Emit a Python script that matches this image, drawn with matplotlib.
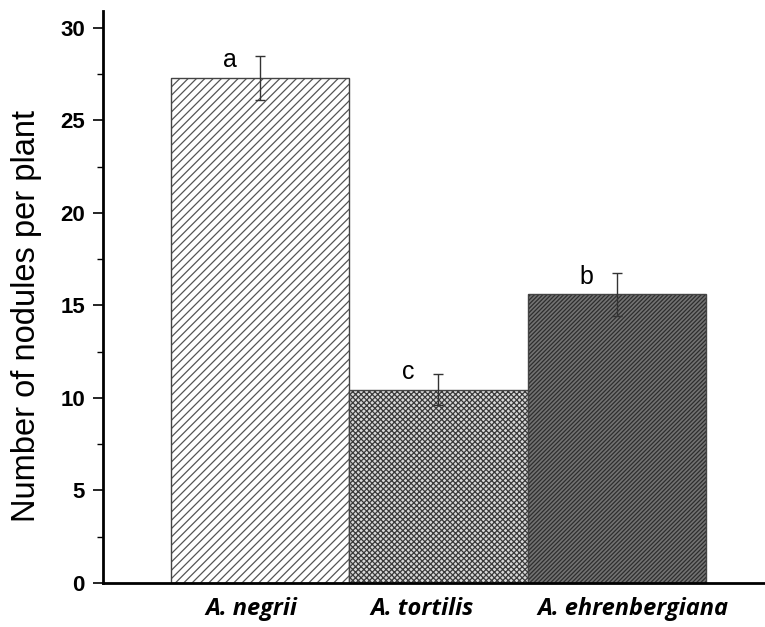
import numpy as np
import matplotlib.pyplot as plt
import matplotlib.transforms as mtransforms

species = ['A. negrii', 'A. tortilis', 'A. ehrenbergiana']
nodules = [27.3, 10.45, 15.6]
errors = [1.2, 0.85, 1.15]
letters = ['a', 'c', 'b']

plt.rcParams['hatch.linewidth'] = 0.9

fig = plt.figure(figsize=(7.65, 6.27), dpi=100)
ax = fig.add_axes([0.1346, 0.0702, 0.8654, 0.912])

x = np.arange(len(species))
faces = ['white', '#d8d8d8', '#737373']
hatch_colors = ['#555555', '#3a3a3a', '#2e2e2e']
hatches = ['////', 'xxxxxx', '////////']

for i in range(len(species)):
    ax.bar(x[i], nodules[i], width=1.0, color=faces[i], edgecolor=hatch_colors[i],
           hatch=hatches[i], linewidth=0)
    # outline drawn separately so hatch colour stays independent
    ax.bar(x[i], nodules[i], width=1.0, fill=False, edgecolor='#444444', linewidth=1.0)

ax.errorbar(x, nodules, yerr=errors, fmt='none', ecolor='#333333', elinewidth=1.0,
            capsize=3.5, capthick=1.0)

# significance letters, left of each error bar
for i, lab in enumerate(letters):
    ax.text(x[i] - 0.17, nodules[i] + 0.95, lab, ha='center', va='center',
            fontsize=18, family='Liberation Sans')

ax.set_xlim(-0.88, 2.83)
ax.set_ylim(0, 30.9)
ax.set_yticks(np.arange(0, 31, 5))
ax.set_yticks(np.arange(2.5, 30, 5), minor=True)
ax.tick_params(axis='y', which='major', direction='out', length=7, width=1.2,
               labelsize=16, pad=6)
ax.tick_params(axis='y', which='minor', direction='out', length=4, width=1.0)
for t in ax.get_yticklabels():
    t.set_fontweight('bold')
    t.set_family('Liberation Sans')

ax.set_xticks(x)
ax.set_xticklabels(species, fontsize=17, fontweight='bold', style='italic', family='Open Sans')
ax.tick_params(axis='x', length=0, pad=10)
# labels in the original sit slightly off the bar centres
for t, dx in zip(ax.get_xticklabels(), [-9, -16, 16]):
    t.set_transform(t.get_transform() + mtransforms.ScaledTranslation(dx / 100, 0, fig.dpi_scale_trans))

ax.set_ylabel('Number of nodules per plant', fontsize=23.5, family='Liberation Sans')
ax.yaxis.set_label_coords(-0.092, 0.467)

ax.spines['top'].set_visible(False)
ax.spines['right'].set_visible(False)
ax.spines['left'].set_linewidth(2)
ax.spines['bottom'].set_linewidth(2)

plt.savefig('out.png', dpi=100)
